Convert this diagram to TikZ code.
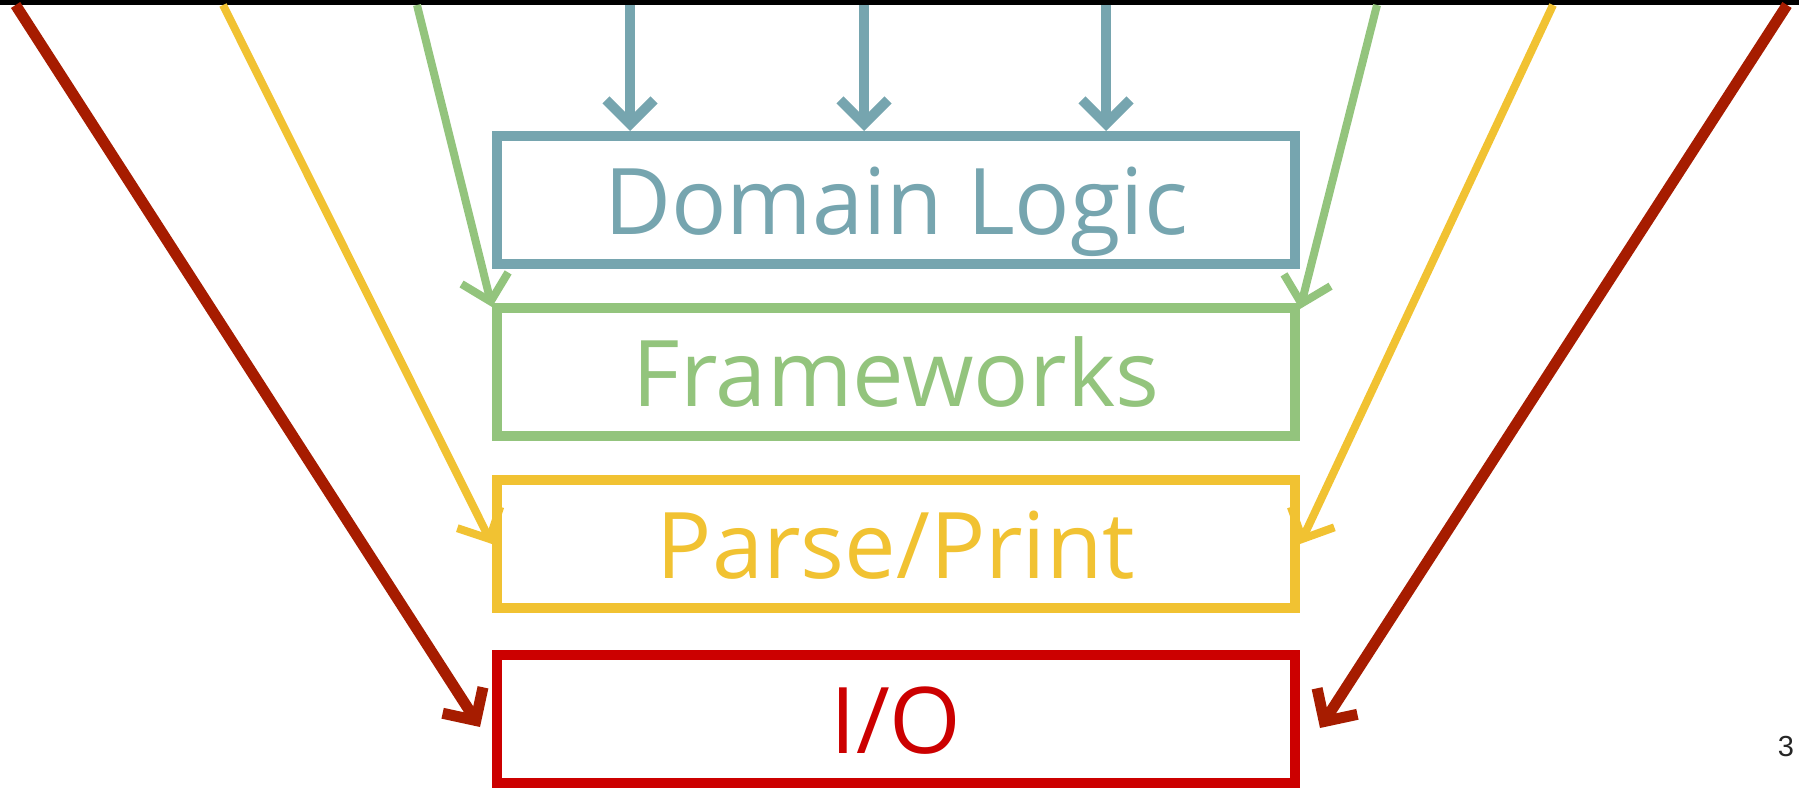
\documentclass[tikz,border=0pt]{standalone}
\usepackage{fontspec}
\setmainfont{Open Sans}
\newfontfamily\numfont{Liberation Sans}
\usetikzlibrary{arrows.meta}
\definecolor{cblue}{HTML}{76A5AF}
\definecolor{cgreen}{HTML}{93C47D}
\definecolor{cyellow}{HTML}{F1C232}
\definecolor{cred}{HTML}{CC0000}
\definecolor{carrred}{HTML}{A61C00}
\tikzset{
  layer/.style={draw=#1, text=#1, line width=10pt, minimum width=798pt,
    minimum height=128pt, inner sep=0pt,
    font=\fontsize{92}{92}\selectfont, text height=69pt, text depth=0pt},
  conn/.style={draw=#1, line cap=butt,
    -{Straight Barb[length=24pt,width=48pt]}},
}
\begin{document}
\begin{tikzpicture}[x=1pt,y=-1pt]
\useasboundingbox (0,0) rectangle (1799,789);
\fill[black] (0,0) rectangle (1799,5);

\node[layer=cblue]   (dom)   at (896,200) {Domain Logic};
\node[layer=cgreen]  (fw)    at (896,372) {Frameworks};
\node[layer=cyellow] (parse) at (896,544) {Parse/Print};
\node[layer=cred]    (io)    at (896,719) {I/O};

\node[font=\numfont\fontsize{29}{29}\selectfont, text=black!85, inner sep=0pt] (pg) at (1786,747) {3};

% start points along the top
\coordinate (sRL) at (15.6,5);
\coordinate (sYL) at (223,5);
\coordinate (sGL) at (417,5);
\coordinate (sB1) at (630,5);
\coordinate (sB2) at (864,5);
\coordinate (sB3) at (1106,5);
\coordinate (sGR) at (1377,5);
\coordinate (sYR) at (1553,5);
\coordinate (sRR) at (1787,5);

% blue arrows
\draw[conn=cblue, line width=10pt] (sB1) -- ([xshift=-266pt]dom.north);
\draw[conn=cblue, line width=10pt] (sB2) -- ([xshift=-32pt]dom.north);
\draw[conn=cblue, line width=10pt] (sB3) -- ([xshift=210pt]dom.north);

% green arrows
\draw[conn=cgreen, line width=8pt] (sGL) -- ([yshift=-4pt]fw.north west);
\draw[conn=cgreen, line width=8pt] (sGR) -- ([yshift=-6pt]fw.north east);

% yellow arrows
\draw[conn=cyellow, line width=8pt] (sYL) -- (parse.west);
\draw[conn=cyellow, line width=8pt] (sYR) -- (parse.east);

% red arrows
\draw[conn=carrred, line width=11pt] (sRL) -- ([xshift=-12pt,yshift=-8pt]io.west);
\draw[conn=carrred, line width=11pt] (sRR) -- ([xshift=20pt,yshift=-9pt]io.east);
\end{tikzpicture}
\end{document}
